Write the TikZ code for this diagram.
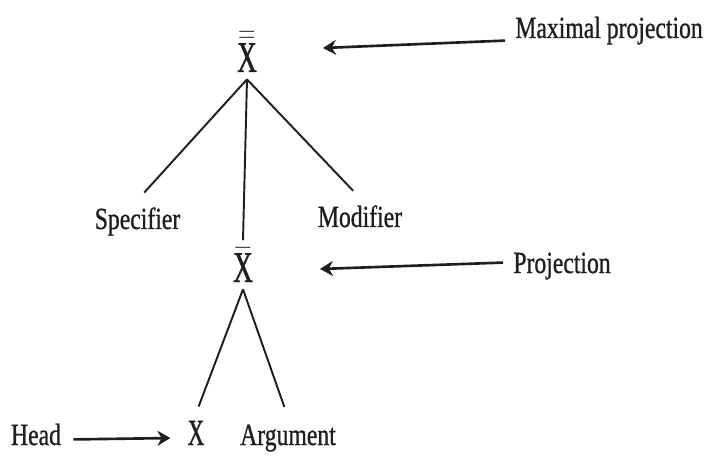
\documentclass[tikz,border=0pt]{standalone}
\usepackage{amsmath}
\usepackage{fontspec}
\setmainfont[FakeStretch=0.77,FakeBold=0.8]{Liberation Serif}
\newfontfamily\catfont[FakeStretch=0.62,FakeBold=1]{Liberation Serif}
\usetikzlibrary{arrows.meta,calc}
\definecolor{cInk}{HTML}{1E1E1E}
\tikzset{
  cat/.style     = {inner sep=0.14cm, anchor=base, text=cInk,
                    font=\catfont\fontsize{25}{30}\selectfont},
  lbl/.style     = {inner sep=0.14cm, anchor=base, text=cInk,
                    font=\fontsize{17.5}{21}\selectfont},
  side/.style    = {lbl, anchor=base west, inner sep=0.2cm},
  branch/.style  = {cInk, line width=1.1pt},
  pointer/.style = {cInk, line width=1.5pt, -{Stealth[length=0.26cm,width=0.3cm]}},
}

\begin{document}
\begin{tikzpicture}
  \useasboundingbox (0,0) rectangle (14.12,9.32);
  % categories
  \node[cat] (xmax) at (4.94,7.88) {$\bar{\bar{\text{X}}}$};
  \node[cat] (xbar) at (4.86,3.68) {$\bar{\text{X}}$};
  \node[cat, font=\catfont\fontsize{21}{25}\selectfont] (xhead) at (3.92,0.42) {X};
  % tree labels
  \node[lbl] (spec) at (2.75,4.74) {Specifier};
  \node[lbl] (modi) at (7.20,4.78) {Modifier};
  \node[lbl] (arg)  at (5.76,0.42) {Argument};
  \node[lbl] (head) at (0.72,0.42) {Head};
  % side labels
  \node[side] (mp)   at (10.10,8.56) {Maximal projection};
  \node[side] (proj) at (10.06,3.86) {Projection};
  \coordinate (mptip)   at (6.46,8.36);
  \coordinate (projtip) at (6.40,3.94);
  % branches
  \draw[branch, shorten >=0.2cm] (xmax.south) -- (spec.north);
  \draw[branch] (xmax.south) -- (xbar.north);
  \draw[branch, shorten >=0.2cm] (xmax.south) -- (modi.north);
  \draw[branch, shorten >=0.15cm] (xbar.south) -- (xhead.north);
  \draw[branch, shorten >=0.22cm] (xbar.south) -- (arg.north);
  % pointers
  \draw[pointer] ([yshift=-0.2cm]mp.west) -- (mptip);
  \draw[pointer] ([yshift=0.07cm]proj.west) -- (projtip);
  \draw[pointer, shorten <=0.1cm, shorten >=0.2cm]
    ([yshift=-0.1cm]head.east) -- ([yshift=-0.1cm]xhead.west);
\end{tikzpicture}
\end{document}
